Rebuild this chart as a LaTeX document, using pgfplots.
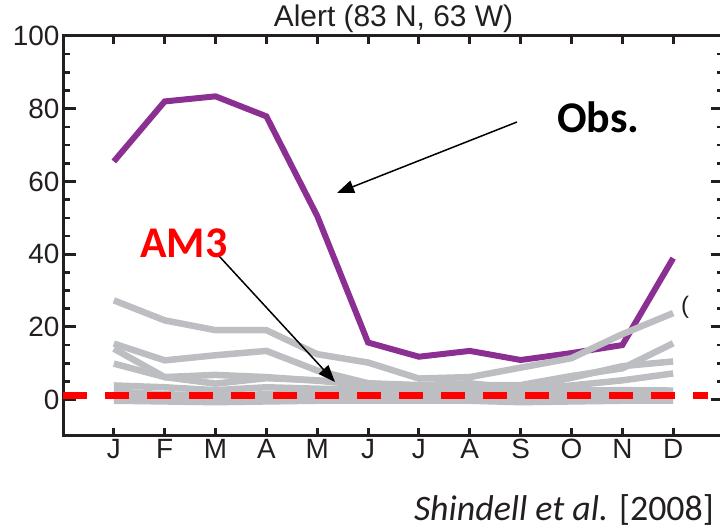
\documentclass[border=0pt]{standalone}
\usepackage{fontspec}
\setmainfont{Liberation Sans}
\newfontfamily\calibri{Carlito}
\usepackage{pgfplots}
\pgfplotsset{compat=1.18}
\usetikzlibrary{arrows.meta}
\definecolor{obs}{RGB}{139,48,146}
\definecolor{mod}{RGB}{189,190,193}
\definecolor{am3}{RGB}{255,0,0}
\definecolor{ink}{RGB}{35,31,32}
\begin{document}
\begin{tikzpicture}[x=1bp,y=1bp]
\useasboundingbox (0,0) rectangle (720,529);
\begin{axis}[
  at={(63bp,93bp)}, anchor=south west, scale only axis,
  width=661bp, height=400bp,
  xmin=0, xmax=13, ymin=-10, ymax=100,
  xtick={1,...,12}, xticklabels={J,F,M,A,M,J,J,A,S,O,N,D},
  ytick={0,20,...,100}, minor y tick num=3,
  tick pos=both, tick align=inside,
  axis line style={line width=3bp, ink},
  major tick length=13bp, minor tick length=7bp,
  xtick style={/pgfplots/major tick length=8bp},
  major tick style={line width=3bp, ink},
  minor tick style={line width=2.5bp, ink},
  tick label style={font=\fontsize{28}{30}\selectfont, text=ink},
  /pgf/number format/assume math mode=true,
  title={Alert (83 N, 63 W)},
  title style={font=\fontsize{30}{32}\selectfont, text=ink, anchor=base, at={(0.5,1)}, yshift=4bp, inner sep=0pt},
]
% observations
\addplot[obs, line width=6bp] coordinates {
(1,65.5) (2,82.0) (3,83.4) (4,77.9) (5,50.5) (6,15.7) (7,11.8) (8,13.4) (9,10.9) (10,12.8) (11,15.0) (12,38.9)};
% models
\addplot[mod, line width=6.5bp] coordinates {
(1,27.3) (2,21.8) (3,19.1) (4,19.1) (5,12.5) (6,10.2) (7,5.8) (8,6.2) (9,8.8) (10,11.4) (11,18.0) (12,23.8)};
\addplot[mod, line width=6.5bp] coordinates {
(1,15.4) (2,10.8) (3,12.2) (4,13.4) (5,8.0) (6,4.5) (7,3.5) (8,4.0) (9,4.0) (10,6.5) (11,8.6) (12,15.5)};
\addplot[mod, line width=6.5bp] coordinates {
(1,14.0) (2,6.2) (3,4.4) (4,5.9) (5,5.3) (6,4.5) (7,4.0) (8,4.5) (9,3.0) (10,6.0) (11,9.2) (12,10.5)};
\addplot[mod, line width=6.5bp] coordinates {
(1,9.9) (2,6.2) (3,6.8) (4,6.2) (5,5.2) (6,4.0) (7,3.0) (8,3.0) (9,2.5) (10,3.9) (11,5.3) (12,7.2)};
\addplot[mod, line width=6.5bp] coordinates {
(1,3.9) (2,3.4) (3,2.6) (4,3.4) (5,3.0) (6,2.8) (7,2.5) (8,2.8) (9,2.0) (10,2.5) (11,2.6) (12,2.5)};
\addplot[mod, line width=6.5bp] coordinates {
(1,2.2) (2,1.5) (3,1.0) (4,1.5) (5,1.5) (6,1.5) (7,1.5) (8,1.8) (9,1.2) (10,1.5) (11,1.8) (12,2.0)};
\addplot[mod, line width=6.5bp] coordinates {
(1,0.5) (2,0.3) (3,0.0) (4,0.3) (5,0.5) (6,0.5) (7,0.5) (8,0.5) (9,0.0) (10,0.3) (11,0.5) (12,0.5)};
\addplot[mod, line width=6.5bp] coordinates {
(1,-0.3) (2,-0.5) (3,-0.7) (4,-0.5) (5,-0.3) (6,-0.3) (7,-0.3) (8,-0.3) (9,-0.7) (10,-0.5) (11,-0.3) (12,-0.3)};
% AM3
\addplot[am3, line width=7bp, dash pattern=on 24bp off 18bp] coordinates {(0,1) (12.68,1)};
\end{axis}
\draw[line width=1.5bp, -{Triangle[length=17bp,width=13bp]}] (517,407) -- (337,336);
\draw[line width=1.5bp, -{Triangle[length=17bp,width=13bp]}] (219,273) -- (335,147);
\node[anchor=base west, inner sep=0pt, font=\calibri\bfseries\fontsize{44}{48}\selectfont] at (557,396) {Obs.};
\node[anchor=base west, inner sep=0pt, text=am3, font=\calibri\bfseries\fontsize{44}{48}\selectfont] at (140,271) {AM3};
\node[anchor=base west, inner sep=0pt, text=ink, font=\fontsize{24}{26}\selectfont] at (681,215) {(};
\node[anchor=base east, inner sep=0pt, text=ink, font=\calibri\fontsize{36}{40}\selectfont] at (714,8) {\textit{Shindell et al.} [2008]};
\end{tikzpicture}
\end{document}
